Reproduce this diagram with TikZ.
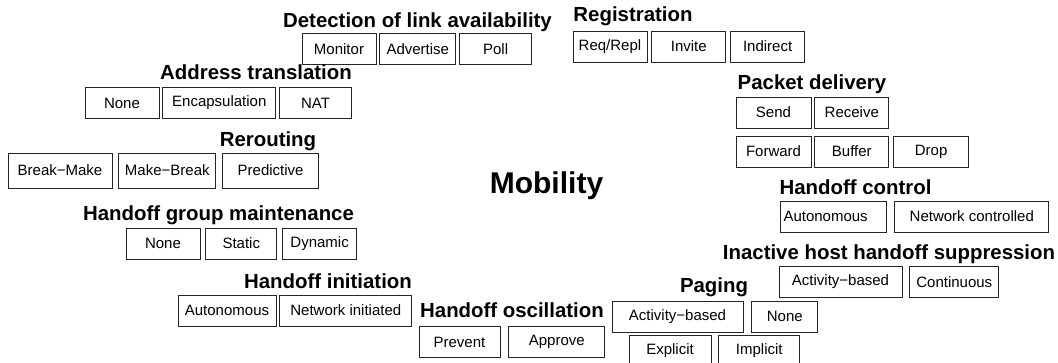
\documentclass[tikz,border=0pt]{standalone}
\usepackage{fontspec}
\setmainfont{Liberation Sans}
\usetikzlibrary{positioning}

\begin{document}
\begin{tikzpicture}[
  x=1pt, y=-1pt,
  opt/.style={draw=black!85,line width=0.8pt,minimum height=31pt,inner sep=2pt,font=\fontsize{15}{18}\selectfont},
  ttl/.style={anchor=base,inner sep=0pt,font=\fontsize{20.4}{24}\selectfont\bfseries}
]
\useasboundingbox (0,0) rectangle (1058,362);
\clip (0,0) rectangle (1058,362);

\node[ttl,font=\fontsize{30}{36}\selectfont\bfseries] (mob) at (546.5,193) {Mobility};

\node[ttl] (det) at (417.5,27) {Detection of link availability};
\node[opt,minimum width=74pt] (mon) at (339,49) {Monitor};
\node[opt,minimum width=76pt,right=3pt of mon] (adv) {Advertise};
\node[opt,minimum width=72pt,right=3pt of adv] (poll) {Poll};

\node[ttl] (reg) at (633,21) {Registration};
\node[opt,minimum width=74pt] (req) at (610,46.5) {Req/Repl};
\node[opt,minimum width=74pt,right=4pt of req] (inv) {Invite};
\node[opt,minimum width=74pt,right=4pt of inv] (ind) {Indirect};

\node[ttl] (addr) at (256,79) {Address translation};
\node[opt,minimum width=74pt] (anone) at (122,103) {None};
\node[opt,minimum width=113pt,right=3pt of anone] (enc) {Encapsulation};
\node[opt,minimum width=72pt,right=3pt of enc] (nat) {NAT};

\node[ttl] (pkt) at (812,89) {Packet delivery};
\node[opt,minimum width=75pt] (snd) at (773.5,112.5) {Send};
\node[opt,minimum width=74pt,right=3pt of snd] (rcv) {Receive};
\node[opt,minimum width=75pt] (fwd) at (773.5,151.5) {Forward};
\node[opt,minimum width=74pt,right=3pt of fwd] (buf) {Buffer};
\node[opt,minimum width=75pt,right=4pt of buf] (drp) {Drop};

\node[ttl] (rer) at (268,146) {Rerouting};
\node[opt,minimum width=104pt,minimum height=35pt] (bm) at (60,170.5) {Break−Make};
\node[opt,minimum width=97pt,minimum height=35pt,right=6pt of bm] (mb) {Make−Break};
\node[opt,minimum width=96pt,minimum height=35pt,right=6pt of mb] (pred) {Predictive};

\node[ttl] (hctl) at (855.5,194) {Handoff control};
\node[opt,minimum width=106pt,text width=99pt,align=left] (hcaut) at (833,216.5) {Autonomous};
\node[opt,minimum width=154pt,right=8pt of hcaut] (hcnet) {Network controlled};

\node[ttl] (grp) at (218.5,220) {Handoff group maintenance};
\node[opt,minimum width=74pt] (gnone) at (163,243.5) {None};
\node[opt,minimum width=71pt,right=5pt of gnone] (gstat) {Static};
\node[opt,minimum width=74pt,right=5pt of gstat] (gdyn) {Dynamic};

\node[ttl] (inact) at (889,259) {Inactive host handoff suppression};
\node[opt,minimum width=123pt] (iact) at (840.5,282) {Activity−based};
\node[opt,minimum width=89pt,right=7pt of iact] (icont) {Continuous};

\node[ttl] (init) at (328,288) {Handoff initiation};
\node[opt,minimum width=98pt] (iaut) at (227,310.5) {Autonomous};
\node[opt,minimum width=132pt,right=3pt of iaut] (inet) {Network initiated};

\node[ttl] (pag) at (714,292) {Paging};
\node[opt,minimum width=131pt] (pact) at (677.5,316.5) {Activity−based};
\node[opt,minimum width=66pt,right=8pt of pact] (pnone) {None};
\node[opt,minimum width=82pt] (pexp) at (670,350.5) {Explicit};
\node[opt,minimum width=81pt,right=7pt of pexp] (pimp) {Implicit};

\node[ttl] (osc) at (512,317) {Handoff oscillation};
\node[opt,minimum width=81pt] (oprev) at (459.5,342) {Prevent};
\node[opt,minimum width=96pt,right=8pt of oprev] (oappr) {Approve};
\end{tikzpicture}
\end{document}
